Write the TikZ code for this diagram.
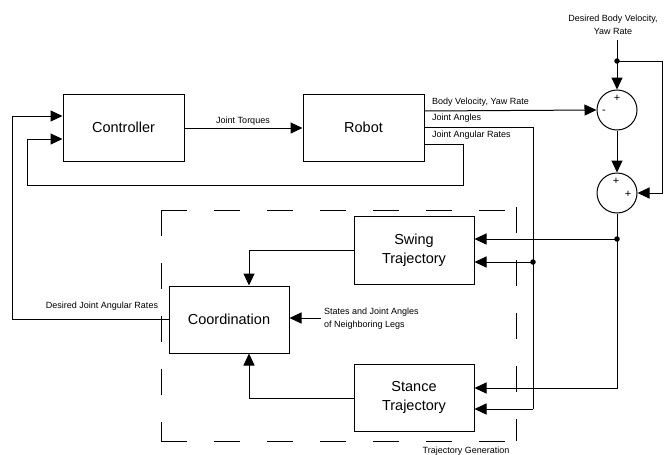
\documentclass[tikz,border=0pt]{standalone}
\usepackage{fontspec}
\setmainfont{Liberation Sans}
\usetikzlibrary{arrows.meta}
\begin{document}
\begin{tikzpicture}[x=1pt,y=-1pt,
  box/.style={draw, line width=1pt, minimum width=120pt, minimum height=67pt, align=center, inner sep=0pt, font=\fontsize{14.5}{19}\selectfont},
  sumc/.style={draw, circle, line width=1pt, minimum size=40pt, inner sep=0pt},
  wire/.style={line width=1pt},
  arr/.style={wire, -{Triangle[length=12pt,width=11pt]}},
  lbl/.style={font=\fontsize{9}{13}\selectfont, inner sep=0pt},
  sgn/.style={font=\fontsize{11}{12}\selectfont, inner sep=0pt},
  dot/.style={circle, fill, inner sep=0pt, minimum size=5.5pt},
  dashbox/.style={line width=1pt, dash pattern=on 26pt off 27pt}
]
\useasboundingbox (0,0) rectangle (664,455);

% blocks
\node[box, minimum width=121pt] (ctrl) at (123.5,127.5) {Controller};
\node[box, minimum width=121pt] (robot) at (363.5,127.5) {Robot};
\node[box, minimum height=68pt] (swing) at (414,250) {Swing\\Trajectory};
\node[box, minimum height=67pt] (stance) at (414,397.5) {Stance\\Trajectory};
\node[box] (coord) at (229,319.5) {Coordination};

% summing junctions
\node[sumc] (s1) at (617,110) {};
\node[sgn] (s1p) at (617,98) {+};
\node[sgn] (s1m) at (604,112) {-};
\node[sumc] (s2) at (617,193) {};
\node[sgn] (s2p1) at (616,181) {+};
\node[sgn] (s2p2) at (628,194) {+};

% dashed group
\draw[dashbox] (161,210) -- (516,210);
\draw[dashbox] (161,210) -- (161,441);
\draw[dashbox] (161,441) -- (516,441);
\draw[dashbox] (516,207) -- (516,441);
\node[lbl] (tg) at (466,451) {Trajectory Generation};

% coordinates
\coordinate (din) at (617,40);
\coordinate (d1) at (617,61);
\coordinate (dr) at (662,61);
\coordinate (ja) at (533,127);
\coordinate (jad) at (533,262);
\coordinate (jab) at (533,409);
\coordinate (sd) at (617,239);
\coordinate (sb) at (617,388);
\coordinate (jr) at (463,144);
\coordinate (jrb) at (463,185);
\coordinate (cl) at (27,185);
\coordinate (dl) at (12,319);
\coordinate (nb) at (321,318);

% labels
\node[lbl, align=center] (dbv) at (613,25) {Desired Body Velocity,\\Yaw Rate};
\node[lbl] (jt) at (243,121) {Joint Torques};
\node[lbl, anchor=west] (bvl) at (432,102) {Body Velocity, Yaw Rate};
\node[lbl, anchor=west] (jal) at (432,118) {Joint Angles};
\node[lbl, anchor=west] (jrl) at (432,135) {Joint Angular Rates};
\node[lbl] (djr) at (102,306) {Desired Joint Angular Rates};
\node[lbl, anchor=west, align=left] (nbl) at (324,318.5) {States and Joint Angles\\of Neighboring Legs};

% connectors
\draw[arr] (ctrl.east |- 0,128) -- (robot.west |- 0,128);
\draw[arr] (robot.east |- 0,111) -- (s1.west);
\draw[arr] (din) -- (s1.north);
\draw[arr] (d1) -- (dr) -- (dr |- s2) -- (s2.east);
\draw[arr] (s1.south) -- (s2.north);
\draw[arr] (s2.south) -- (sb) -- (stance.east |- sb);
\draw[arr] (sd) -- (swing.east |- sd);
\draw[wire] (robot.east |- ja) -- (ja) -- (jab);
\draw[arr] (jab) -- (stance.east |- jab);
\draw[arr] (jad) -- (swing.east |- jad);
\draw[wire] (robot.east |- jr) -- (jr) -- (jrb) -- (cl);
\draw[arr] (cl) -- (27,139) -- (ctrl.west |- 0,139);
\draw[wire] (coord.west |- dl) -- (dl);
\draw[arr] (dl) -- (12,116) -- (ctrl.west |- 0,116);
\draw[arr] (swing.west |- 0,250) -- (249,250) -- (coord.north -| 249,0);
\draw[arr] (stance.west |- 0,398) -- (249,398) -- (coord.south -| 249,0);
\draw[arr] (nb) -- (coord.east |- nb);

\node[dot] (dt1) at (d1) {};
\node[dot] (dt2) at (sd) {};
\node[dot] (dt3) at (jad) {};
\end{tikzpicture}
\end{document}
